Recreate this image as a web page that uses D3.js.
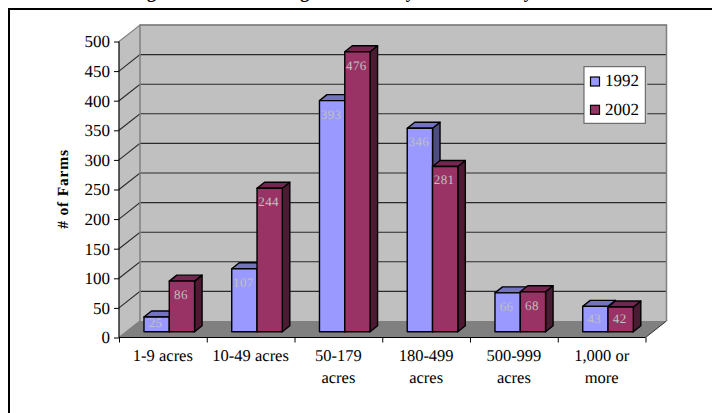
<!DOCTYPE html>
<html>
<head>
<meta charset="utf-8">
<script src="https://cdn.jsdelivr.net/npm/d3@7/dist/d3.min.js"></script>
<style>
  html, body { margin: 0; padding: 0; background: #fff; overflow: hidden; }
  svg { display: block; text-rendering: geometricPrecision; }
  text { font-family: "Liberation Serif", serif; }
</style>
</head>
<body>
<script>
const categories = ["1-9 acres", "10-49 acres", "50-179 acres", "180-499 acres", "500-999 acres", "1,000 or more"];
const categoryLines = [["1-9 acres"], ["10-49 acres"], ["50-179", "acres"], ["180-499", "acres"], ["500-999", "acres"], ["1,000 or", "more"]];
const seriesNames = ["1992", "2002"];
const values1992 = [25, 107, 393, 346, 66, 43];
const values2002 = [86, 244, 476, 281, 68, 42];
const yTicks = [0, 50, 100, 150, 200, 250, 300, 350, 400, 450, 500];
const titleText = "Figure 1: Count Change in Farms by Farm Acres by Year";

const width = 712, height = 413;
const plot = { left: 119, right: 645.5, top: 41.5, bottom: 337.5, depthX: 21, depthY: -16.5 };
const barDepth = { x: 7.5, y: -6 };
const fills = {
  "1992": { front: "#9999ff", side: "#4d4d80", top: "#7373bf" },
  "2002": { front: "#993366", side: "#4d1a33", top: "#732650" }
};

const svg = d3.select("body").append("svg").attr("width", width).attr("height", height);

const y = d3.scaleLinear().domain([0, 500]).range([plot.bottom, plot.top]);
// Bars stand part-way into the floor, so their baseline sits above the front axis.
const yBar = d3.scaleLinear().domain([0, 500]).range([331.7, 37.7]);
const x0 = d3.scaleBand().domain(categories).range([plot.left, plot.right]).paddingInner(0.4234).paddingOuter(0.2117);
const x1 = d3.scaleBand().domain(seriesNames).range([0, x0.bandwidth()]);
const barShift = 6.4;

// Outer frame, open on the right and bottom
svg.append("path")
  .attr("d", `M9,${height}V9H${width}`)
  .attr("fill", "none").attr("stroke", "#000").attr("stroke-width", 2);

// Title, running off the top edge
svg.append("text").attr("x", 131).attr("y", -1.8)
  .attr("font-size", 18).attr("font-weight", "bold").attr("fill", "#000")
  .text(titleText);

// Walls and floor of the 3D box
const pt = (px, py) => [px, py];
const poly = pts => "M" + pts.map(p => p.join(",")).join("L") + "Z";
const dx = plot.depthX, dy = plot.depthY;
svg.append("path")
  .attr("d", poly([pt(plot.left + dx, plot.top + dy), pt(plot.right + dx, plot.top + dy), pt(plot.right + dx, plot.bottom + dy), pt(plot.left + dx, plot.bottom + dy)]))
  .attr("fill", "#c0c0c0");
svg.append("path")
  .attr("d", poly([pt(plot.left, plot.top), pt(plot.left + dx, plot.top + dy), pt(plot.left + dx, plot.bottom + dy), pt(plot.left, plot.bottom)]))
  .attr("fill", "#c0c0c0");
svg.append("path")
  .attr("d", poly([pt(plot.left, plot.bottom), pt(plot.left + dx, plot.bottom + dy), pt(plot.right + dx, plot.bottom + dy), pt(plot.right, plot.bottom)]))
  .attr("fill", "#808080");

// Gridlines: a slanted run on the side wall, then across the back wall
const gridTicks = yTicks.filter(t => t > 0);
svg.append("g").selectAll("path").data(gridTicks).join("path")
  .attr("d", t => `M${plot.left},${y(t)}L${plot.left + dx},${y(t) + dy}H${plot.right + dx}`)
  .attr("fill", "none")
  .attr("stroke", t => t === 500 ? "#808080" : "#2a2a2a")
  .attr("stroke-width", 1.1);

// Wall edges
svg.append("path")
  .attr("d", `M${plot.left},${plot.bottom}L${plot.left + dx},${plot.bottom + dy}V${plot.top + dy}H${plot.right + dx}V${plot.bottom + dy}`)
  .attr("fill", "none").attr("stroke", "#808080").attr("stroke-width", 1.5);
svg.append("path")
  .attr("d", `M${plot.right},${plot.bottom}L${plot.right + dx},${plot.bottom + dy}`)
  .attr("fill", "none").attr("stroke", "#333").attr("stroke-width", 1);

// Bars
const rows = categories.flatMap((c, i) => [
  { cat: c, series: "1992", value: values1992[i] },
  { cat: c, series: "2002", value: values2002[i] }
]);
const barX = d => x0(d.cat) + x1(d.series) + barShift;
const bars = svg.append("g").selectAll("g").data(rows).join("g")
  .attr("stroke", "#000").attr("stroke-width", 1.4).attr("stroke-linejoin", "round");
bars.append("path").attr("fill", d => fills[d.series].side).attr("d", d => {
  const r = barX(d) + x1.bandwidth(), t = yBar(d.value), b = yBar(0);
  return poly([[r, t], [r + barDepth.x, t + barDepth.y], [r + barDepth.x, b + barDepth.y], [r, b]]);
});
bars.append("path").attr("fill", d => fills[d.series].top).attr("d", d => {
  const l = barX(d), r = l + x1.bandwidth(), t = yBar(d.value);
  return poly([[l, t], [l + barDepth.x, t + barDepth.y], [r + barDepth.x, t + barDepth.y], [r, t]]);
});
bars.append("rect").attr("fill", d => fills[d.series].front)
  .attr("x", barX).attr("width", x1.bandwidth())
  .attr("y", d => yBar(d.value)).attr("height", d => yBar(0) - yBar(d.value));

// Value labels on the bar fronts
svg.append("g").selectAll("text").data(rows).join("text")
  .attr("x", d => barX(d) + x1.bandwidth() / 2 - 1)
  .attr("y", d => yBar(d.value) + Math.min(18, (yBar(0) - yBar(d.value)) * 0.65))
  .attr("text-anchor", "middle").attr("font-size", 13).attr("letter-spacing", 0.4)
  .attr("fill", "#c0c0c0").text(d => d.value);

// Value axis
const yAxis = svg.append("g").attr("transform", `translate(${plot.left},0)`)
  .call(d3.axisLeft(y).tickValues(yTicks).tickSize(5).tickPadding(4));
yAxis.selectAll("text").attr("font-size", 17).attr("font-family", "Liberation Serif").attr("fill", "#000");
yAxis.selectAll("line").attr("stroke", "#000");
yAxis.select(".domain").attr("stroke", "#000").attr("stroke-width", 1.2).attr("d", `M${0},${plot.top}V${plot.bottom}`);

// Category axis: ticks on the band edges, labels centred in each band
const edges = d3.scaleLinear().domain([0, categories.length]).range([plot.left, plot.right]);
const xAxis = svg.append("g").attr("transform", `translate(0,${plot.bottom})`)
  .call(d3.axisBottom(edges).tickValues(d3.range(categories.length + 1)).tickSize(5).tickFormat(""));
xAxis.selectAll("line").attr("stroke", "#000");
xAxis.select(".domain").attr("stroke", "#000").attr("stroke-width", 1.2).attr("d", `M${plot.left},0H${plot.right}`);

const lineY = [361, 383];
svg.append("g").selectAll("g").data(categories).join("g")
  .each(function (c, i) {
    d3.select(this).selectAll("text").data(categoryLines[i]).join("text")
      .attr("x", x0(c) + x0.bandwidth() / 2)
      .attr("y", (d, j) => lineY[j])
      .attr("text-anchor", "middle").attr("font-size", 16.5)
      .attr("fill", "#000").text(d => d);
  });

// Axis title
svg.append("text")
  .attr("transform", "translate(68,189) rotate(-90)")
  .attr("text-anchor", "middle").attr("font-size", 15.5).attr("font-weight", "bold")
  .attr("letter-spacing", 0.8).attr("fill", "#000").text("# of Farms");

// Legend
const legendBox = { x: 584, y: 66.7, w: 61.3, h: 56.6 };
const swatchY = d3.scalePoint().domain(seriesNames).range([77, 105.3]);
const legend = svg.append("g");
legend.append("rect").attr("x", legendBox.x + legendBox.w).attr("y", legendBox.y).attr("width", 2).attr("height", legendBox.h).attr("fill", "#c0c0c0");
legend.append("rect").attr("x", legendBox.x).attr("y", legendBox.y).attr("width", legendBox.w).attr("height", legendBox.h)
  .attr("fill", "#fff").attr("stroke", "#555").attr("stroke-width", 1);
legend.selectAll(".swatch").data(seriesNames).join("rect").attr("class", "swatch")
  .attr("x", 590.5).attr("y", d => swatchY(d)).attr("width", 9).attr("height", 9)
  .attr("fill", d => fills[d].front).attr("stroke", "#000").attr("stroke-width", 1.2);
legend.selectAll(".name").data(seriesNames).join("text").attr("class", "name")
  .attr("x", 605).attr("y", d => swatchY(d) + 9.3)
  .attr("font-size", 17).attr("fill", "#000").text(d => d);
</script>
</body>
</html>
